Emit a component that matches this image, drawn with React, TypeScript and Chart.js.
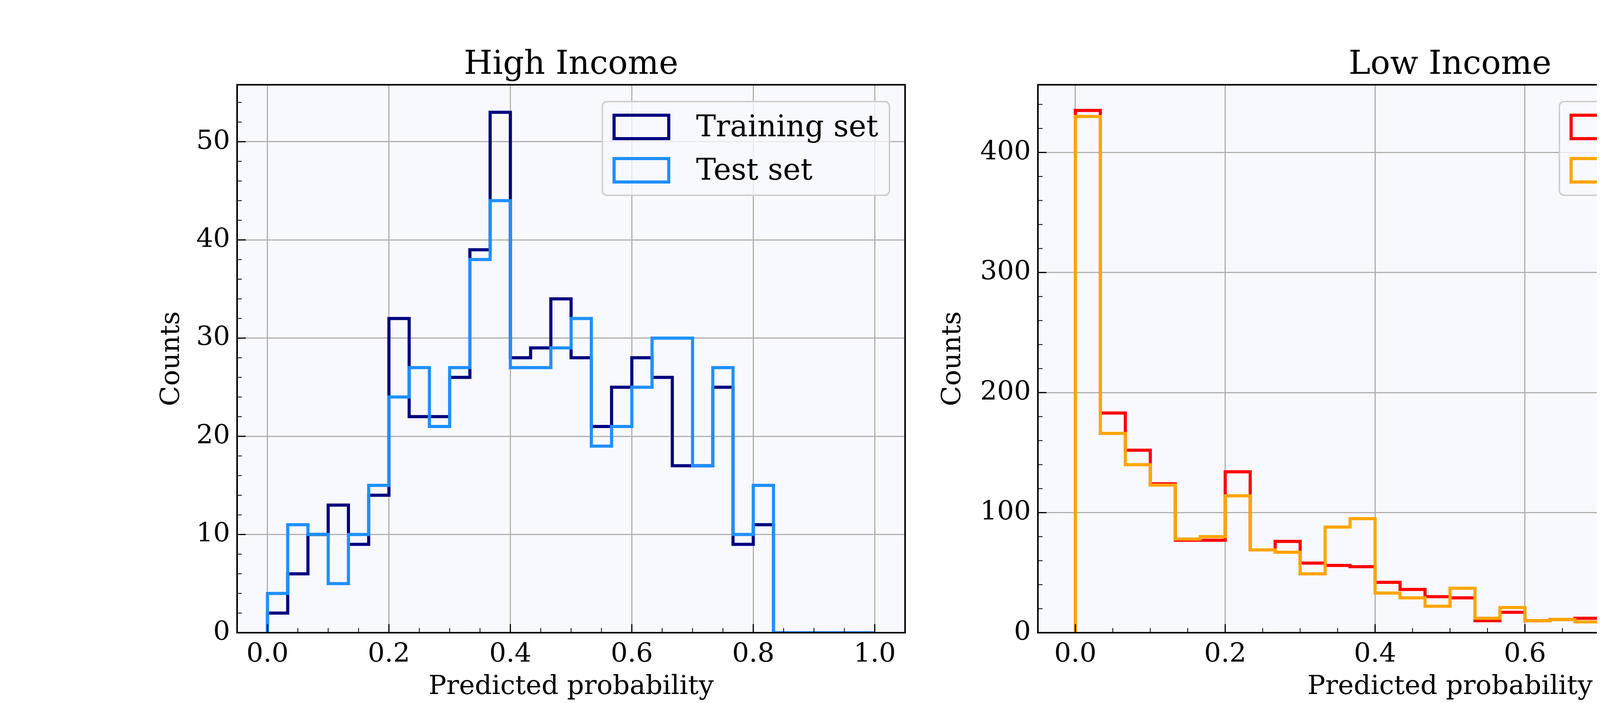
import React, { useEffect, useRef } from 'react';
import Chart from 'chart.js/auto';

const binCount = 30;
const highTrain = [2, 6, 10, 13, 9, 14, 32, 22, 22, 26, 39, 53, 28, 29, 34, 28, 21, 25, 28, 26, 17, 17, 25, 9, 11, 0, 0, 0, 0, 0];
const highTest = [4, 11, 10, 5, 10, 15, 24, 27, 21, 27, 38, 44, 27, 27, 29, 32, 19, 21, 25, 30, 30, 17, 27, 10, 15, 0, 0, 0, 0, 0];
const lowTrain = [435, 183, 152, 124, 77, 77, 134, 69, 76, 58, 56, 55, 42, 36, 30, 29, 10, 17, 10, 11, 12, 4, 8, 3, 2, 1, 0, 0, 0, 0];
const lowTest = [430, 166, 140, 123, 78, 80, 114, 69, 67, 49, 88, 95, 33, 29, 22, 37, 12, 21, 10, 11, 9, 6, 10, 3, 4, 0, 0, 0, 0, 0];
const xTicks = [0, 0.2, 0.4, 0.6, 0.8, 1.0];

const FONT = "'DejaVu Serif', serif";

// outline of a step histogram: up at 0, across each bin, down at 1
function stepPoints(values: number[]) {
  const w = 1 / binCount;
  const pts = [{ x: 0, y: 0 }];
  values.forEach((v, i) => {
    pts.push({ x: i * w, y: v });
    pts.push({ x: (i + 1) * w, y: v });
  });
  pts.push({ x: 1, y: 0 });
  return pts;
}

type PanelProps = {
  title: string;
  train: number[];
  test: number[];
  colors: [string, string];
  yMax: number;
  yStep: number;
  yMinor: number;
  padLeft: number;
  yWidth: number;
  padRight: number;
};

const Panel: React.FC<PanelProps> = (p) => {
  const ref = useRef<HTMLCanvasElement | null>(null);

  useEffect(() => {
    if (!ref.current) return;
    const deco = {
      id: 'deco',
      beforeDraw(chart: any) {
        const { ctx, chartArea: a } = chart;
        ctx.save();
        ctx.fillStyle = '#f8f8ff';
        ctx.fillRect(a.left, a.top, a.right - a.left, a.bottom - a.top);
        ctx.restore();
      },
      afterDraw(chart: any) {
        const { ctx, chartArea: a, scales } = chart;
        ctx.save();
        ctx.strokeStyle = '#000';
        const tick = (x1: number, y1: number, x2: number, y2: number, lw: number) => {
          ctx.lineWidth = lw;
          ctx.beginPath();
          ctx.moveTo(x1, y1);
          ctx.lineTo(x2, y2);
          ctx.stroke();
        };
        for (let v = 0; v <= 1.0001; v += 0.05) {
          const x = scales.x.getPixelForValue(v);
          const major = Math.abs(v / 0.2 - Math.round(v / 0.2)) < 1e-6;
          tick(x, a.bottom, x, a.bottom - (major ? 22 : 12), major ? 3 : 2);
        }
        for (let v = 0; v <= p.yMax; v += p.yMinor) {
          const y = scales.y.getPixelForValue(v);
          const major = v % p.yStep === 0;
          tick(a.left, y, a.left + (major ? 22 : 12), y, major ? 3 : 2);
        }
        ctx.lineWidth = 4;
        ctx.strokeRect(a.left, a.top, a.right - a.left, a.bottom - a.top);
        // title
        ctx.fillStyle = '#000';
        ctx.font = `84px ${FONT}`;
        ctx.textAlign = 'center';
        ctx.textBaseline = 'alphabetic';
        ctx.fillText(p.title, (a.left + a.right) / 2, a.top - 28);
        // legend
        const bw = 735, bh = 240;
        const bx = a.right - 40 - bw, by = a.top + 43;
        ctx.fillStyle = 'rgba(248,248,255,0.8)';
        ctx.strokeStyle = '#d0d0d0';
        ctx.lineWidth = 4;
        ctx.beginPath();
        ctx.roundRect(bx, by, bw, bh, 12);
        ctx.fill();
        ctx.stroke();
        const labels = ['Training set', 'Test set'];
        ctx.font = `76px ${FONT}`;
        ctx.textAlign = 'left';
        ctx.textBaseline = 'middle';
        labels.forEach((l, i) => {
          const cy = by + 65 + i * 111;
          ctx.strokeStyle = p.colors[i];
          ctx.lineWidth = 8;
          ctx.strokeRect(bx + 30, cy - 30, 140, 60);
          ctx.fillStyle = '#000';
          ctx.fillText(l, bx + 240, cy + 4);
        });
        ctx.restore();
      },
    };

    const chart = new Chart(ref.current, {
      type: 'line',
      data: {
        datasets: [
          { label: 'Training set', data: stepPoints(p.train), borderColor: p.colors[0], borderWidth: 8, pointRadius: 0, fill: false, order: 1 },
          { label: 'Test set', data: stepPoints(p.test), borderColor: p.colors[1], borderWidth: 8, pointRadius: 0, fill: false, order: 0 },
        ],
      },
      options: {
        responsive: false,
        devicePixelRatio: 1,
        animation: false,
        layout: { padding: { left: p.padLeft, right: p.padRight, top: 217, bottom: 0 } },
        plugins: { legend: { display: false }, tooltip: { enabled: false } },
        scales: {
          x: {
            type: 'linear',
            min: -0.05,
            max: 1.05,
            afterBuildTicks: (s: any) => { s.ticks = xTicks.map((v) => ({ value: v })); },
            afterFit: (s: any) => { s.height = 180; },
            grid: { color: '#b0b0b0', lineWidth: 3, drawTicks: false },
            border: { display: false },
            ticks: { color: '#000', padding: 16, font: { family: FONT, size: 68 }, callback: (v: any) => Number(v).toFixed(1) },
            title: { display: true, text: 'Predicted probability', color: '#000', padding: { top: 0, bottom: 0 }, font: { family: FONT, size: 68 } },
          },
          y: {
            type: 'linear',
            min: 0,
            max: p.yMax,
            afterBuildTicks: (s: any) => { s.ticks = s.ticks.filter((t: any) => t.value % p.yStep === 0); },
            afterFit: (s: any) => { s.width = p.yWidth; },
            grid: { color: '#b0b0b0', lineWidth: 3, drawTicks: false },
            border: { display: false },
            ticks: { stepSize: p.yStep, color: '#000', padding: 18, font: { family: FONT, size: 68 } },
            title: { display: true, text: 'Counts', color: '#000', padding: 0, font: { family: FONT, size: 68 } },
          },
        },
      },
      plugins: [deco],
    });
    return () => chart.destroy();
  }, []);

  return <canvas ref={ref} width={2400} height={1800} style={{ display: 'block', width: 2400, height: 1800 }} />;
};

export default function App() {
  return (
    <div style={{ display: 'flex', width: 4800, height: 1800, background: '#fff', margin: -8 }}>
      <Panel title="High Income" train={highTrain} test={highTest} colors={['#000080', '#1e90ff']}
        yMax={55.8} yStep={10} yMinor={2} padLeft={400} yWidth={207} padRight={83} />
      <Panel title="Low Income" train={lowTrain} test={lowTest} colors={['#ff0000', '#ffa500']}
        yMax={456.4} yStep={100} yMinor={20} padLeft={0} yWidth={257} padRight={33} />
    </div>
  );
}
